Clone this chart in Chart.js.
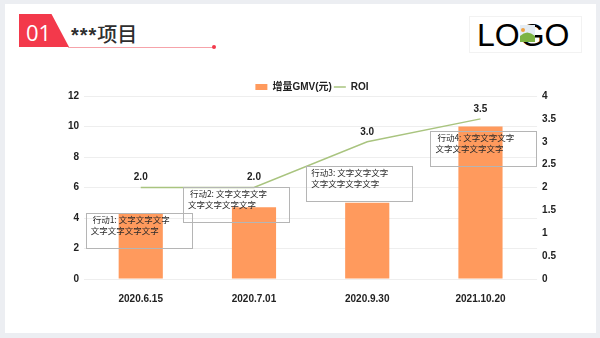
<!DOCTYPE html>
<html>
<head>
<meta charset="utf-8">
<script src="https://cdn.jsdelivr.net/npm/chart.js@4.4.0/dist/chart.umd.min.js"></script>
<style>
html, body { margin: 0; padding: 0; }
body { width: 600px; height: 338px; background: #eceef2; position: relative; overflow: hidden; }
.card { position: absolute; left: 5px; top: 4px; width: 591px; height: 329px; background: #fff; }
.tag { position: absolute; left: 19px; top: 14px; width: 50px; height: 33px; background: #f3394b;
       clip-path: polygon(0 0, 65% 0, 100% 100%, 0 100%); }
.tag span { position: absolute; left: 7px; top: 5px; color: #fff; font: 22px 'Open Sans', sans-serif; line-height: 26px; }
.title { position: absolute; left: 71px; top: 22px; color: #2e2e2e; font: 500 20px 'Liberation Sans', 'Noto Sans CJK SC', sans-serif; line-height: 26px; }
.title b { font-weight: bold; letter-spacing: 1px; }
.uline { position: absolute; left: 68px; top: 47px; width: 146px; height: 1px; background: #f6a3aa; }
.dot { position: absolute; left: 212px; top: 45px; width: 4px; height: 4px; border-radius: 50%; background: #f3394b; }
.logo { position: absolute; left: 469px; top: 16px; width: 111px; height: 35px; border: 1px solid #f2f2f2;
        font: 32px 'Liberation Sans', Arial, sans-serif; color: #000; line-height: 36px; text-indent: 7px; }
.logo svg { position: absolute; left: 50px; top: 8px; }
#wrap { position: absolute; left: 0; top: 0; width: 600px; height: 338px; }
</style>
</head>
<body>
<div class="card"></div>
<div class="tag"><span>01</span></div>
<div class="title"><b>***</b>项目</div>
<div class="uline"></div>
<div class="dot"></div>
<div class="logo">LOGO<svg width="15" height="17" viewBox="0 0 15 17">
  <rect x="0" y="0" width="15" height="17" fill="#e4ecf3"/>
  <circle cx="3" cy="5" r="2" fill="#f0a040"/>
  <path d="M0 17 L0 11 Q7 4 15 11 L15 17 Z" fill="#7cb342"/>
</svg></div>
<div id="wrap"><canvas id="chart"></canvas></div>
<script>
const categories = ['2020.6.15', '2020.7.01', '2020.9.30', '2021.10.20'];
const gmv = [4.3, 4.7, 5.0, 10.0];
const roi = [2.0, 2.0, 3.0, 3.5];
const notes = [
    [' 行动1: 文字文字文字', '文字文字文字文字'],
    [' 行动2: 文字文字文字', '文字文字文字文字'],
    ['行动3: 文字文字文字', '文字文字文字文字'],
    [' 行动4: 文字文字文字', '文字文字文字文字']
];

const FONT = "'Liberation Sans', 'Noto Sans CJK SC', Arial, sans-serif";

// where each note box sits: category index, top in GMV units, x shift in px
const notePlace = [
    {i: 0, top: 4.36, dx: -2},
    {i: 1, top: 6.06, dx: -18},
    {i: 2, top: 7.4, dx: -8},
    {i: 3, top: 9.7, dx: 3}
];

const notesPlugin = {
    id: 'notes',
    afterDatasetsDraw(chart) {
        const ctx = chart.ctx;
        const xs = chart.scales.x, ys = chart.scales.y;
        ctx.save();
        notePlace.forEach((p, k) => {
            const cx = xs.getPixelForValue(p.i) + p.dx;
            const top = ys.getPixelForValue(p.top);
            const w = 106, h = 35;
            ctx.strokeStyle = '#b5b5b5';
            ctx.lineWidth = 1;
            ctx.strokeRect(Math.round(cx - w / 2) + 0.5, Math.round(top) + 0.5, w, h);
            ctx.fillStyle = '#2a2a2a';
            ctx.font = "8.5px 'Noto Sans CJK SC', sans-serif";
            ctx.textBaseline = 'middle';
            ctx.textAlign = 'left';
            notes[k].forEach((line, j) => {
                ctx.fillText(line, cx - w / 2 + 5, top + 7 + j * 11);
            });
        });
        ctx.restore();
    }
};

const valueLabels = {
    id: 'valueLabels',
    afterDatasetsDraw(chart) {
        const ctx = chart.ctx;
        const meta = chart.getDatasetMeta(1);
        ctx.save();
        ctx.font = 'bold 10px ' + FONT;
        ctx.fillStyle = '#222';
        ctx.textAlign = 'center';
        ctx.textBaseline = 'middle';
        meta.data.forEach((pt, i) => {
            ctx.fillText(roi[i].toFixed(1), pt.x, pt.y - 10);
        });
        ctx.restore();
    }
};

Chart.defaults.font.family = FONT;
Chart.defaults.color = '#222';

new Chart(document.getElementById('chart'), {
    type: 'bar',
    data: {
        labels: categories,
        datasets: [{
            label: '增量GMV(元)',
            data: gmv,
            backgroundColor: '#ff9a5d',
            borderWidth: 0,
            categoryPercentage: 1,
            barPercentage: 0.39,
            yAxisID: 'y',
            order: 2
        }, {
            type: 'line',
            label: 'ROI',
            data: roi,
            borderColor: '#a9c47f',
            backgroundColor: '#a9c47f',
            borderWidth: 1.5,
            pointRadius: 0,
            tension: 0,
            yAxisID: 'y1',
            order: 1
        }]
    },
    options: {
        responsive: true,
        maintainAspectRatio: false,
        animation: false,
        layout: {padding: {left: 63, right: 39, top: 80, bottom: 27}},
        plugins: {
            legend: {
                position: 'top',
                maxHeight: 16,
                labels: {
                    usePointStyle: true,
                    pointStyleWidth: 12,
                    boxHeight: 6,
                    padding: 2,
                    font: {size: 10, weight: 'bold'},
                    generateLabels(chart) {
                        const items = Chart.defaults.plugins.legend.labels.generateLabels(chart);
                        items.sort((a, b) => a.datasetIndex - b.datasetIndex);
                        items.forEach(it => {
                            it.pointStyle = it.datasetIndex === 0 ? 'rect' : 'line';
                        });
                        return items;
                    }
                }
            },
            tooltip: {enabled: false}
        },
        scales: {
            x: {
                grid: {display: false},
                border: {display: false},
                ticks: {font: {size: 10, weight: 'bold'}, padding: 6}
            },
            y: {
                position: 'left',
                min: 0, max: 12,
                ticks: {stepSize: 2, font: {size: 10, weight: 'bold'}, padding: 5},
                grid: {color: '#eeeeee', drawTicks: false},
                border: {display: false}
            },
            y1: {
                position: 'right',
                min: 0, max: 4,
                ticks: {stepSize: 0.5, font: {size: 10, weight: 'bold'}, padding: 5,
                        callback: v => String(v)},
                grid: {display: false, drawTicks: false},
                border: {display: false}
            }
        }
    },
    plugins: [notesPlugin, valueLabels]
});
</script>
</body>
</html>
